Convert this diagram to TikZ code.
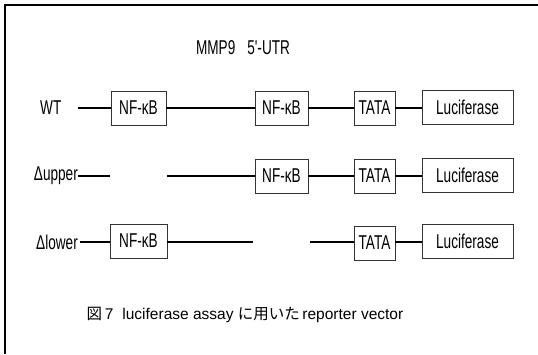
\documentclass[tikz,border=0pt]{standalone}
\usepackage{fontspec}
\setmainfont{Liberation Sans}
\newfontfamily\narrowfont[FakeStretch=0.68]{Liberation Sans}
\newfontfamily\cjk{Noto Sans CJK JP}
\begin{document}
\begin{tikzpicture}[x=1pt,y=-1pt,
  lbl/.style={font=\narrowfont\fontsize{20}{20}\selectfont, inner sep=0pt},
  elem/.style={draw=black!80, line width=0.8pt, fill=white, minimum height=34pt, inner sep=0pt,
     font=\narrowfont\fontsize{20}{20}\selectfont},
  wire/.style={line width=2pt, black},
  frame/.style={line width=2pt, black}]
\useasboundingbox (0,0) rectangle (538,354);
% frame
\coordinate (fa) at (5,354);
\coordinate (fb) at (5,5);
\coordinate (fc) at (538,5);
\draw[frame] (fa) -- (fb) -- (fc);
% title
\node[lbl] (title) at (243,48) {MMP9\hspace{12pt}5'-UTR};
% row 1
\node[lbl, anchor=west] (wt) at (40,108) {WT};
\node[elem, minimum width=55pt] (nf1) at (138.5,108) {NF-κB};
\node[elem, minimum width=53pt] (nf2) at (281.5,108) {NF-κB};
\node[elem, minimum width=41pt] (ta1) at (374.5,108) {TATA};
\node[elem, minimum width=91pt] (lu1) at (467.5,107) {Luciferase};
\coordinate (w1) at (78,108);
\draw[wire] (w1) -- (nf1.west);
\draw[wire] (nf1.east) -- (nf2.west);
\draw[wire] (nf2.east) -- (ta1.west);
\draw[wire] (ta1.east) -- (ta1.east -| lu1.west);
% row 2
\node[lbl, anchor=east] (up) at (78,176) {Δupper};
\node[elem, minimum width=53pt] (nf3) at (281.5,176) {NF-κB};
\node[elem, minimum width=41pt] (ta2) at (374.5,176) {TATA};
\node[elem, minimum width=91pt] (lu2) at (467.5,175) {Luciferase};
\coordinate (u1) at (110,176);
\coordinate (u2) at (167,176);
\draw[wire] (up.east) -- (u1);
\draw[wire] (u2) -- (nf3.west);
\draw[wire] (nf3.east) -- (ta2.west);
\draw[wire] (ta2.east) -- (ta2.east -| lu2.west);
% row 3
\node[lbl, anchor=east] (lo) at (78,242) {Δlower};
\node[elem, minimum width=57pt] (nf4) at (138.5,241) {NF-κB};
\node[elem, minimum width=41pt] (ta3) at (374.5,243) {TATA};
\node[elem, minimum width=91pt] (lu3) at (467.5,241) {Luciferase};
\coordinate (l0) at (80,242);
\coordinate (l1) at (253,242);
\coordinate (l2) at (310,242);
\draw[wire] (l0) -- (l0 -| nf4.west);
\draw[wire] (nf4.east |- l1) -- (l1);
\draw[wire] (l2) -- (l2 -| ta3.west);
\draw[wire] (ta3.east |- l2) -- (l2 -| lu3.west);
% caption
\node[font=\fontsize{15.5}{15.5}\selectfont, inner sep=0pt] (cap) at (245,315)
  {{\cjk 図}\,7\hspace{9pt}luciferase assay {\cjk に用いた}\,reporter vector};
\end{tikzpicture}
\end{document}
